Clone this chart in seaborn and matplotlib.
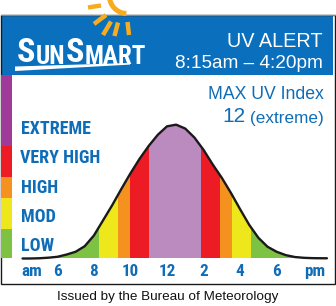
import matplotlib
matplotlib.use("Agg")
import matplotlib.pyplot as plt
import matplotlib.patches as mpatches
from matplotlib.lines import Line2D
from matplotlib import font_manager
import numpy as np
import seaborn as sns

# ---------------- data ----------------
hours = [4.1, 4.5, 5.0, 5.5, 6.0, 6.5, 7.0, 7.5, 8.0, 8.5, 9.0, 9.5, 10.0, 10.5,
         11.0, 11.5, 12.0, 12.5, 13.0, 13.5, 14.0, 14.5, 15.0, 15.5, 16.0, 16.5,
         17.0, 17.5, 18.0, 18.5, 19.0, 19.5, 20.0, 20.5, 20.75]
uv = [0.0, 0.0, 0.02, 0.07, 0.15, 0.35, 0.6, 1.1, 2.05, 3.4, 4.75, 6.2, 7.6, 8.9,
      10.05, 11.05, 11.8, 11.95, 11.6, 10.8, 9.7, 8.4, 7.2, 5.85, 4.4, 3.0,
      1.85, 1.05, 0.6, 0.3, 0.13, 0.06, 0.03, 0.02, 0.02]

band_edges = [4.1, 8.28, 9.33, 9.99, 11.03, 13.85, 14.91, 15.57, 16.62, 20.75]
band_levels = ["LOW", "MOD", "HIGH", "VERY HIGH", "EXTREME",
               "VERY HIGH", "HIGH", "MOD", "LOW"]

levels = ["LOW", "MOD", "HIGH", "VERY HIGH", "EXTREME"]
level_lo = [0.0, 2.6, 5.4, 7.3, 10.0]
level_hi = [2.6, 5.4, 7.3, 10.0, 16.4]

tick_hours = [4.6, 6, 8, 10, 12, 14, 16, 18, 20.1]
tick_labels = ["am", "6", "8", "10", "12", "2", "4", "6", "pm"]

logo_parts = ["S", "UN", "S", "MART"]
alert_title = "UV ALERT"
alert_times = "8:15am \u2013 4:20pm"
max_title = "MAX UV Index"
max_value = "12"
max_desc = "(extreme)"
footer = "Issued by the Bureau of Meteorology"

# ---------------- style ----------------
BLUE_HDR = "#0a6fbd"
BLUE_TXT = "#0f6db8"
band_color = {"LOW": "#7dc243", "MOD": "#ede71b", "HIGH": "#f5921f",
              "VERY HIGH": "#ed1c24", "EXTREME": "#bb8abf"}
strip_color = {"LOW": "#7dc243", "MOD": "#ede71b", "HIGH": "#f5921f",
               "VERY HIGH": "#ed1c24", "EXTREME": "#a03a9a"}
SUN = "#f9ab1e"

sns.set_style("white")
avail = {f.name for f in font_manager.fontManager.ttflist}
NARROW = None
for c in ["Liberation Sans Narrow", "Arial Narrow", "Roboto Condensed", "Open Sans Condensed"]:
    if c in avail:
        NARROW = c
        break
plt.rcParams["font.family"] = ["Liberation Sans", "DejaVu Sans"]


def fnt(size, bold=False, narrow=False):
    w = "bold" if bold else "normal"
    if narrow and NARROW:
        return dict(family=[NARROW, "Liberation Sans"], size=size, weight=w)
    if narrow:
        return dict(family=["Liberation Sans", "DejaVu Sans"], size=size * 0.84, weight=w)
    return dict(family=["Liberation Sans", "DejaVu Sans"], size=size, weight=w)


W, H = 336, 306
fig = plt.figure(figsize=(W / 100, H / 100), dpi=100)
fig.patch.set_facecolor("white")

# background / decoration layer in pixel coordinates (y grows downward)
bg = fig.add_axes([0, 0, 1, 1])
bg.set_xlim(0, W)
bg.set_ylim(H, 0)
bg.set_autoscale_on(False)
bg.axis("off")
bg.set_zorder(0)

bg.add_patch(mpatches.Rectangle((1, 15), 332, 60, facecolor=BLUE_HDR, edgecolor="none", zorder=1))
bg.add_patch(mpatches.Rectangle((0.5, 15), 334, 269, fill=False, ec="#1a1a1a", lw=1.0, zorder=2))
bg.plot([0.5, 334.5], [15, 15], color="#8a8a8a", lw=0.8, zorder=2)


def figline(xs, ys, **kw):
    xs = np.asarray(xs, float) / W
    ys = 1 - np.asarray(ys, float) / H
    fig.add_artist(Line2D(xs, ys, transform=fig.transFigure, zorder=5, **kw))


# sun: arc and rays (decoration), drawn above everything at figure level
theta = np.linspace(np.deg2rad(92), np.deg2rad(178), 30)
figline(127 + 17.5 * np.cos(theta), -4 + 17.5 * np.sin(theta), color=SUN,
        lw=3.6, solid_capstyle="butt")
rays = [((101, 5.5), (88, 7.5)), ((106, 15), (94, 24)), ((111, 21.5), (103, 35)),
        ((118, 22.5), (114.5, 36)), ((127.5, 22), (129, 35))]
for (x0, y0), (x1, y1) in rays:
    figline([x0, x1], [y0, y1], color=SUN, lw=3.2, solid_capstyle="butt")

# SunSmart logo text, letters chained left to right
prev = None
for part in logo_parts:
    big = part == "S"
    kw = fnt(24.5 if big else 18, bold=True, narrow=True)
    if prev is None:
        prev = bg.text(17, 62, part, ha="left", va="baseline", color="white", zorder=11, **kw)
    else:
        prev = bg.annotate(part, xy=(1, 0), xycoords=prev, xytext=(0.2, 0),
                           textcoords="offset points", ha="left", va="bottom",
                           color="white", zorder=11, **kw)
bg.add_patch(mpatches.Polygon([(15, 66.5), (130, 63), (130, 64.6), (15, 71)],
                              closed=True, facecolor="white", edgecolor="none", zorder=11))

# header texts
bg.text(322.7, 46.7, alert_title, ha="right", va="baseline", color="white", **fnt(14.3))
bg.text(322.7, 67.5, alert_times, ha="right", va="baseline", color="white", **fnt(13.7))
bg.text(324, 99.3, max_title, ha="right", va="baseline", color=BLUE_TXT, **fnt(12.7))
t_ext = bg.text(324, 123.3, max_desc, ha="right", va="baseline", color=BLUE_TXT, **fnt(12.3))
bg.annotate(max_value, xy=(0, 0), xycoords=t_ext, xytext=(-3.5, 0),
            textcoords="offset points", ha="right", va="bottom", color=BLUE_TXT, **fnt(15))

# level labels
for name, yb in zip(levels[::-1], [134, 163.3, 192.7, 221.7, 250.7]):
    bg.text(20.5, yb, name, ha="left", va="baseline", color=BLUE_TXT,
            **fnt(13, bold=True, narrow=True))

bg.text(168, 300, footer, ha="center", va="baseline", color="#111111", **fnt(9.7))

# ---------------- main chart ----------------
ax = fig.add_axes([1 / W, 22 / H, 332 / W, 209 / H])
ax.set_zorder(1)
ax.patch.set_alpha(0)
XMIN, XMAX = 2.920, 21.082
YMIN, YMAX = -2.277, 16.384

# level strip on the left
ax.bar([XMIN] * len(levels), np.subtract(level_hi, level_lo), width=0.629,
       bottom=level_lo, align="edge", color=[strip_color[l] for l in levels], lw=0, zorder=1)

# coloured bands clipped by the curve
area = ax.fill_between(hours, uv, 0, color="none", lw=0)
clip = area.get_paths()[0]
bars = ax.bar(band_edges[:-1], [YMAX] * len(band_levels), width=np.diff(band_edges),
              bottom=0, align="edge", color=[band_color[l] for l in band_levels],
              lw=0, zorder=1)
for b in bars:
    b.set_clip_path(clip, ax.transData)

sns.lineplot(x=hours, y=uv, ax=ax, color="#1a1a1a", lw=1.7, zorder=3)

ax.set_xlim(XMIN, XMAX)
ax.set_ylim(YMIN, YMAX)
for s in ax.spines.values():
    s.set_visible(False)
ax.set_yticks([])
ax.set_xticks(tick_hours, tick_labels)
ax.tick_params(axis="x", length=0, pad=-6.0, colors=BLUE_TXT)
for lab in ax.get_xticklabels():
    lab.set_va("baseline")
    lab.set_fontproperties(font_manager.FontProperties(**fnt(12.3, True, True)))
ax.set_xlabel("")
ax.set_ylabel("")

fig.savefig("out.png", dpi=100, facecolor="white")
